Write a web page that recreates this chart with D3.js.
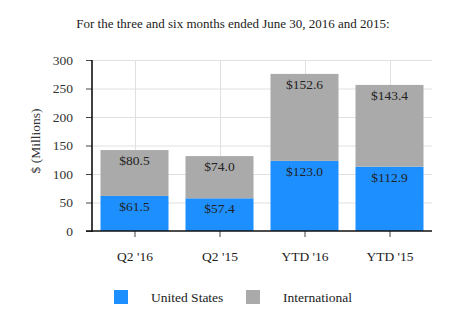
<!DOCTYPE html>
<html>
<head>
<meta charset="utf-8">
<script src="https://cdn.jsdelivr.net/npm/d3@7"></script>
<style>
  html, body { margin: 0; padding: 0; background: #fff; }
  svg text { font-family: "Liberation Serif", "Times New Roman", serif; }
</style>
</head>
<body>
<svg id="chart" width="466" height="333"></svg>
<script>
const categories = ["Q2 '16", "Q2 '15", "YTD '16", "YTD '15"];
const unitedStates = [61.5, 57.4, 123.0, 112.9];
const international = [80.5, 74.0, 152.6, 143.4];
const seriesNames = ["United States", "International"];
const seriesColors = ["#1e8fff", "#aaaaaa"];
const yTicks = [0, 50, 100, 150, 200, 250, 300];
const titleText = "For the three and six months ended June 30, 2016 and 2015:";
const yAxisTitle = "$ (Millions)";

const svg = d3.select("#chart");
const margin = { left: 92, right: 34, top: 60, bottom: 102 };
const W = 466, H = 333;
const plotW = W - margin.left - margin.right;
const plotH = H - margin.top - margin.bottom;

const rows = categories.map((c, i) => ({ cat: c, us: unitedStates[i], intl: international[i] }));
const stack = d3.stack().keys(["us", "intl"])(rows);

const x = d3.scaleBand().domain(categories).range([0, plotW]).paddingInner(0.2).paddingOuter(0.1);
const xc = d3.scalePoint().domain(categories).range([0, plotW]).padding(0.5);
const y = d3.scaleLinear().domain([0, 300]).range([plotH, 0]);

svg.append("text")
  .attr("x", W / 2).attr("y", 28)
  .attr("text-anchor", "middle")
  .attr("font-size", 13).attr("fill", "#222")
  .text(titleText);

const g = svg.append("g").attr("transform", `translate(${margin.left},${margin.top})`);

// horizontal grid
g.append("g").selectAll("line").data(yTicks.slice(1)).join("line")
  .attr("x1", 0).attr("x2", plotW)
  .attr("y1", d => y(d) + 0.5).attr("y2", d => y(d) + 0.5)
  .attr("stroke", "#e0e0e0").attr("stroke-width", 1);

// vertical grid through category centres
g.append("g").selectAll("line").data(categories).join("line")
  .attr("x1", d => Math.round(xc(d)) + 0.5).attr("x2", d => Math.round(xc(d)) + 0.5)
  .attr("y1", 0).attr("y2", plotH)
  .attr("stroke", "#e0e0e0").attr("stroke-width", 1);

// stacked bars
stack.forEach((layer, li) => {
  g.append("g").selectAll("rect").data(layer).join("rect")
    .attr("x", d => x(d.data.cat))
    .attr("width", x.bandwidth())
    .attr("y", d => y(d[1]))
    .attr("height", d => y(d[0]) - y(d[1]))
    .attr("fill", seriesColors[li]);
});

// value labels near the top of each segment
const values = [unitedStates, international];
stack.forEach((layer, li) => {
  g.append("g").selectAll("text").data(layer).join("text")
    .attr("x", d => x(d.data.cat) + x.bandwidth() / 2)
    .attr("y", d => y(d[1]) + 15)
    .attr("text-anchor", "middle")
    .attr("font-size", 13.5).attr("fill", "#222")
    .text((d, i) => "$" + values[li][i].toFixed(1));
});

// y axis
const yAxis = g.append("g").call(d3.axisLeft(y).tickValues(yTicks).tickSize(6).tickPadding(13));
yAxis.select(".domain").remove();
yAxis.selectAll(".tick line").attr("stroke", "#444");
yAxis.selectAll(".tick text").attr("font-size", 13.5).attr("fill", "#333")
  .attr("font-family", "Liberation Serif, Times New Roman, serif");
g.append("line").attr("x1", 0).attr("x2", 0).attr("y1", 0).attr("y2", plotH + 1)
  .attr("stroke", "#111").attr("stroke-width", 1.6);

// x axis
const xAxis = g.append("g").attr("transform", `translate(0,${plotH})`)
  .call(d3.axisBottom(xc).tickSize(6).tickPadding(14));
xAxis.select(".domain").remove();
xAxis.selectAll(".tick line").attr("stroke", "#444");
xAxis.selectAll(".tick text").attr("font-size", 13.5).attr("fill", "#222")
  .attr("font-family", "Liberation Serif, Times New Roman, serif");
g.append("line").attr("x1", -6).attr("x2", plotW).attr("y1", plotH).attr("y2", plotH)
  .attr("stroke", "#111").attr("stroke-width", 1.6);

// y axis title
svg.append("text")
  .attr("transform", `translate(40,141) rotate(-90)`)
  .attr("text-anchor", "middle")
  .attr("font-size", 13.5).attr("fill", "#333")
  .text(yAxisTitle);

// legend
const legendX = [114, 246];
const legendTextX = [151, 283];
const legend = svg.append("g");
seriesNames.forEach((name, i) => {
  legend.append("rect")
    .attr("x", legendX[i]).attr("y", 290).attr("width", 14).attr("height", 14)
    .attr("fill", seriesColors[i]);
  legend.append("text")
    .attr("x", legendTextX[i]).attr("y", 302)
    .attr("font-size", 13.5).attr("fill", "#222")
    .text(name);
});
</script>
</body>
</html>
